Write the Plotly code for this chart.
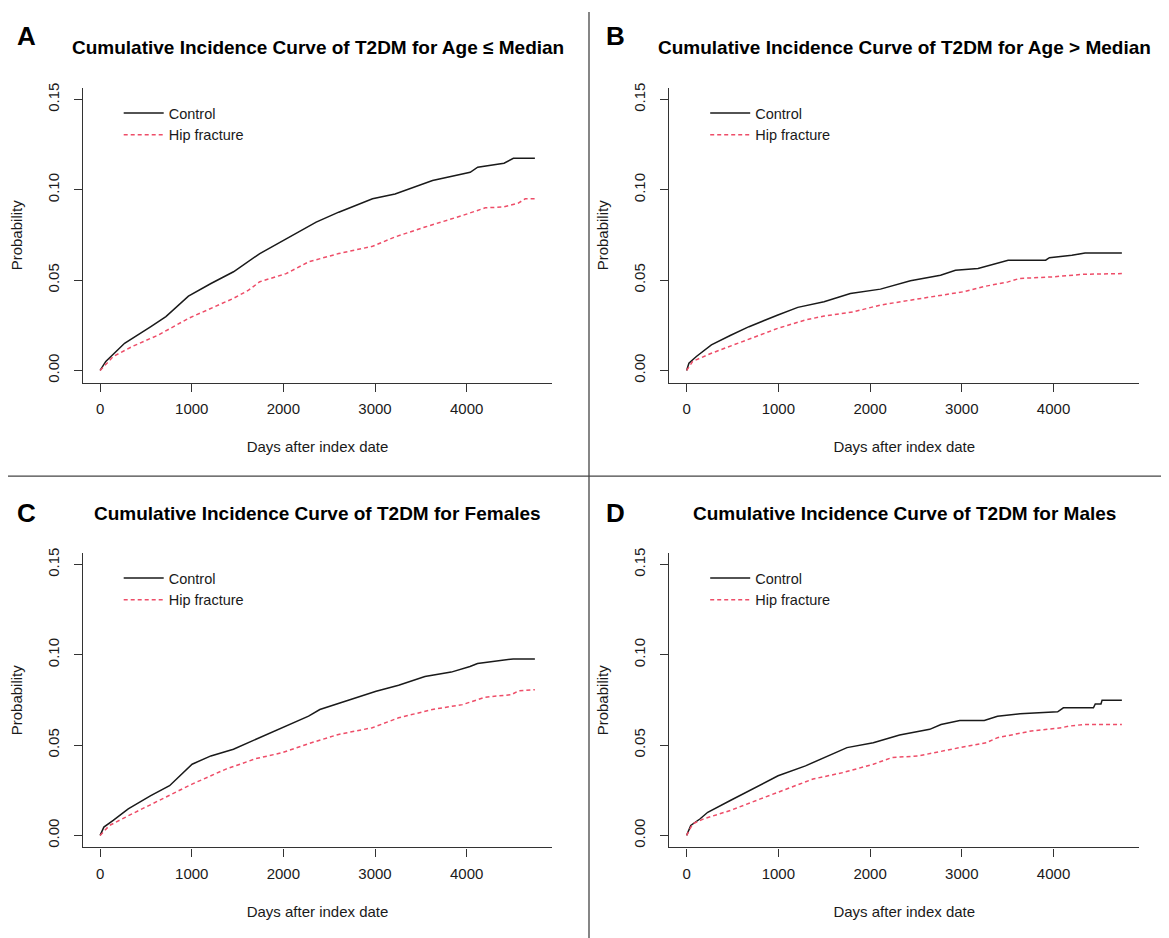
import plotly.graph_objects as go

# page body has an 8px default margin: the figure is sized to fill the rest
OFF = 8
W, H = 1169 - OFF, 938 - OFF
FONT = "Liberation Sans, Arial, Helvetica, sans-serif"
BLACK = "#1a1a1a"
RED = "#EE4D68"

# ---------------- data ----------------
A_ctrl_x = [0, 62, 267, 349, 554, 718, 964, 1210, 1456, 1743, 2030, 2358, 2604, 2788, 2973, 3219, 3628, 4039, 4121, 4408, 4510, 4745]
A_ctrl_y = [0, 0.005, 0.015, 0.0178, 0.0243, 0.0298, 0.0411, 0.0481, 0.0546, 0.0647, 0.0729, 0.0821, 0.0876, 0.0913, 0.0950, 0.0977, 0.1051, 0.1097, 0.1125, 0.1147, 0.1174, 0.1174]
A_hip_x = [0, 144, 349, 636, 964, 1210, 1456, 1620, 1743, 2030, 2276, 2604, 2973, 3219, 3547, 3957, 4203, 4400, 4560, 4640, 4745]
A_hip_y = [0, 0.0077, 0.0132, 0.0196, 0.0288, 0.0343, 0.0399, 0.0444, 0.0491, 0.0536, 0.0601, 0.0647, 0.0687, 0.0739, 0.0794, 0.0858, 0.0900, 0.0905, 0.0925, 0.0950, 0.0950]

B_ctrl_x = [0, 25, 106, 270, 475, 680, 995, 1212, 1498, 1785, 2113, 2440, 2768, 2931, 3177, 3341, 3505, 3914, 3955, 4200, 4344, 4745]
B_ctrl_y = [0, 0.004, 0.0077, 0.0141, 0.0193, 0.0242, 0.0307, 0.0349, 0.0380, 0.0426, 0.0450, 0.0496, 0.0527, 0.0554, 0.0564, 0.0586, 0.0610, 0.0610, 0.0624, 0.0637, 0.0650, 0.0650]
B_hip_x = [0, 66, 270, 557, 802, 995, 1294, 1498, 1826, 2113, 2440, 2768, 3013, 3259, 3505, 3627, 4000, 4323, 4745]
B_hip_y = [0, 0.005, 0.0095, 0.0150, 0.0196, 0.0233, 0.0279, 0.0301, 0.0325, 0.0362, 0.0389, 0.0417, 0.0435, 0.0466, 0.0490, 0.0509, 0.0518, 0.0532, 0.0536]

C_ctrl_x = [0, 41, 143, 307, 553, 758, 1004, 1209, 1455, 1783, 1988, 2275, 2398, 2684, 3012, 3258, 3545, 3832, 4037, 4119, 4324, 4508, 4745]
C_ctrl_y = [0, 0.0046, 0.0083, 0.0147, 0.0220, 0.0275, 0.0394, 0.0440, 0.0477, 0.0550, 0.0596, 0.0660, 0.0697, 0.0743, 0.0798, 0.0831, 0.0880, 0.0904, 0.0935, 0.0952, 0.0966, 0.0977, 0.0977]
C_hip_x = [0, 102, 348, 635, 1004, 1373, 1701, 1988, 2275, 2602, 2971, 3258, 3627, 3955, 4201, 4488, 4570, 4745]
C_hip_y = [0, 0.0055, 0.0119, 0.0193, 0.0284, 0.0367, 0.0425, 0.0458, 0.0508, 0.0559, 0.0596, 0.0651, 0.0697, 0.0724, 0.0765, 0.0779, 0.0801, 0.0807]

D_ctrl_x = [0, 45, 148, 230, 476, 681, 997, 1296, 1543, 1748, 2035, 2322, 2650, 2773, 2978, 3245, 3389, 3635, 4045, 4107, 4435, 4455, 4517, 4529, 4745]
D_ctrl_y = [0, 0.0055, 0.0092, 0.0128, 0.0193, 0.0248, 0.0330, 0.0385, 0.0440, 0.0486, 0.0513, 0.0556, 0.0587, 0.0614, 0.0636, 0.0636, 0.0660, 0.0673, 0.0684, 0.0706, 0.0706, 0.0728, 0.0728, 0.0748, 0.0748]
D_hip_x = [0, 66, 189, 476, 804, 1132, 1378, 1707, 2035, 2240, 2527, 2978, 3266, 3389, 3758, 4086, 4168, 4332, 4745]
D_hip_y = [0, 0.0064, 0.0092, 0.0138, 0.0202, 0.0266, 0.0312, 0.0348, 0.0394, 0.0431, 0.0440, 0.0486, 0.0513, 0.0541, 0.0578, 0.0596, 0.0605, 0.0614, 0.0614]

panel_letters = ["A", "B", "C", "D"]
panel_titles = [
    "Cumulative Incidence Curve of T2DM for Age \u2264 Median",
    "Cumulative Incidence Curve of T2DM for Age > Median",
    "Cumulative Incidence Curve of T2DM for Females",
    "Cumulative Incidence Curve of T2DM for Males",
]
series_names = ["Control", "Hip fracture"]
x_ticks = [0, 1000, 2000, 3000, 4000]
x_ticktext = ["0", "1000", "2000", "3000", "4000"]
y_ticks = [0, 0.05, 0.10, 0.15]
y_ticktext = ["0.00", "0.05", "0.10", "0.15"]
x_title = "Days after index date"
y_title = "Probability"

panels = [
    (A_ctrl_x, A_ctrl_y, A_hip_x, A_hip_y),
    (B_ctrl_x, B_ctrl_y, B_hip_x, B_hip_y),
    (C_ctrl_x, C_ctrl_y, C_hip_x, C_hip_y),
    (D_ctrl_x, D_ctrl_y, D_hip_x, D_hip_y),
]

# ---------------- layout geometry (page pixels) ----------------
col_x = [(82.7, 552.3), (669.2, 1139.3)]
row_y = [(83.5, 379.5), (551.0, 847.0)]


def px_x(v):
    return (v - OFF) / W


def px_y(v):
    return 1 - (v - OFF) / H


fig = go.Figure()
layout = dict(
    width=W, height=H,
    margin=dict(l=0, r=0, t=0, b=0),
    paper_bgcolor="white", plot_bgcolor="white",
    font=dict(family=FONT, color=BLACK),
    annotations=[], shapes=[],
)

for i, (cx, cy, hx, hy) in enumerate(panels):
    r, c = divmod(i, 2)
    sfx = "" if i == 0 else str(i + 1)
    xa, ya = "x" + sfx, "y" + sfx
    lg = "legend" + sfx
    fig.add_trace(go.Scatter(x=cx, y=cy, mode="lines", name=series_names[0],
                             line=dict(color=BLACK, width=1.5),
                             xaxis=xa, yaxis=ya, legend=lg))
    fig.add_trace(go.Scatter(x=hx, y=hy, mode="lines", name=series_names[1],
                             line=dict(color=RED, width=1.5, dash="4px,3px"),
                             xaxis=xa, yaxis=ya, legend=lg))
    x0, x1 = col_x[c]
    y0, y1 = row_y[r]
    common = dict(showline=True, linecolor="#333", linewidth=1.2,
                  ticks="outside", ticklen=8, tickwidth=1.2, tickcolor="#333",
                  showgrid=False, zeroline=False,
                  tickfont=dict(family=FONT, size=15, color=BLACK),
                  fixedrange=True)
    layout["xaxis" + sfx] = dict(
        common, domain=[px_x(x0), px_x(x1)], range=[-190, 4935],
        tickvals=x_ticks, ticktext=x_ticktext, anchor=ya,
        ticklabelstandoff=4,
        title=dict(text=x_title, font=dict(family=FONT, size=15, color=BLACK), standoff=25),
    )
    layout["yaxis" + sfx] = dict(
        common, domain=[px_y(y1), px_y(y0)], range=[-0.0067, 0.1563],
        tickvals=y_ticks, ticktext=y_ticktext, tickangle=-90, anchor=xa,
        ticklabelstandoff=9,
        title=dict(text=y_title, font=dict(family=FONT, size=15, color=BLACK), standoff=18),
    )
    layout[lg] = dict(
        x=px_x(x0 + 36), y=px_y(y0 + 9), xanchor="left", yanchor="top",
        bgcolor="rgba(0,0,0,0)", borderwidth=0, itemwidth=40,
        font=dict(family=FONT, size=14.5, color=BLACK),
        itemclick=False, itemdoubleclick=False,
    )
    # panel title and letter
    layout["annotations"].append(dict(
        text="<b>" + panel_titles[i] + "</b>", xref="paper", yref="paper",
        x=px_x((x0 + x1) / 2), y=px_y([43.0, 511.0][r]),
        xanchor="center", yanchor="middle", showarrow=False,
        font=dict(family=FONT, size=19, color="black")))
    layout["annotations"].append(dict(
        text="<b>" + panel_letters[i] + "</b>", xref="paper", yref="paper",
        x=px_x([26.5, 615.0][c]), y=px_y([31.0, 510.5][r]),
        xanchor="center", yanchor="middle", showarrow=False,
        font=dict(family=FONT, size=26, color="black")))

# divider lines between panels
layout["shapes"].append(dict(type="line", xref="paper", yref="paper",
                             x0=px_x(589), x1=px_x(589), y0=px_y(7), y1=0,
                             line=dict(color="#444", width=1.3)))
layout["shapes"].append(dict(type="line", xref="paper", yref="paper",
                             x0=0, x1=1, y0=px_y(473.7), y1=px_y(473.7),
                             line=dict(color="#444", width=1.3)))

fig.update_layout(**layout)
fig.write_html("out.html", config={"displayModeBar": False})
